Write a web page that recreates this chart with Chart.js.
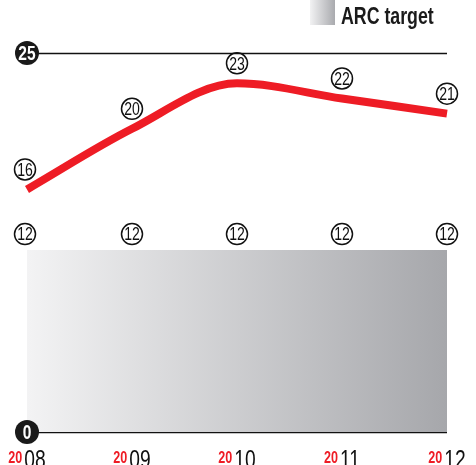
<!DOCTYPE html>
<html>
<head>
<meta charset="utf-8">
<script src="https://cdn.jsdelivr.net/npm/chart.js@4"></script>
<style>
  html, body { margin: 0; padding: 0; background: #fff; }
  #wrap { position: relative; width: 476px; height: 465px; }
</style>
</head>
<body>
<div id="wrap"><canvas id="chart" width="476" height="465"></canvas></div>
<script>
const years = ["2008", "2009", "2010", "2011", "2012"];
const actualValues = [16, 20, 23, 22, 21];
const arcTarget = [12, 12, 12, 12, 12];
const axisMarks = [0, 25];

const FONT = '"Liberation Sans", Arial, sans-serif';
const RED = "#ee1c25";
const SQUEEZE = 0.74; // horizontal squeeze to get a condensed face

// draw text squeezed horizontally, returns drawn width
function condText(ctx, text, x, y, font, align) {
  ctx.save();
  ctx.font = font;
  const w = ctx.measureText(text).width * SQUEEZE;
  let left = x;
  if (align === "center") left = x - w / 2;
  else if (align === "right") left = x - w;
  ctx.translate(left, y);
  ctx.scale(SQUEEZE, 1);
  ctx.textAlign = "left";
  ctx.fillText(text, 0, 0);
  ctx.restore();
  return w;
}

function condWidth(ctx, text, font) {
  ctx.save();
  ctx.font = font;
  const w = ctx.measureText(text).width * SQUEEZE;
  ctx.restore();
  return w;
}

// circled value above each point
function circled(ctx, text, x, y) {
  ctx.save();
  ctx.beginPath();
  ctx.arc(x, y, 10.5, 0, Math.PI * 2);
  ctx.lineWidth = 1.5;
  ctx.strokeStyle = "#111";
  ctx.stroke();
  ctx.fillStyle = "#111";
  ctx.textBaseline = "middle";
  condText(ctx, text, x, y + 1, "19px " + FONT, "center");
  ctx.restore();
}

const decorations = {
  id: "decorations",
  beforeDatasetsDraw(chart) {
    const { ctx, chartArea, scales } = chart;
    ctx.save();
    ctx.strokeStyle = "#111";
    ctx.lineWidth = 1.3;
    axisMarks.forEach(v => {
      const y = Math.round(scales.y.getPixelForValue(v)) + 0.5;
      ctx.beginPath();
      ctx.moveTo(chartArea.left, y);
      ctx.lineTo(chartArea.right, y);
      ctx.stroke();
    });
    ctx.restore();
  },
  afterDatasetsDraw(chart) {
    const { ctx, scales } = chart;
    const x = scales.x, y = scales.y;

    // axis badges
    axisMarks.forEach(v => {
      const py = y.getPixelForValue(v);
      ctx.save();
      ctx.beginPath();
      ctx.arc(27, py, 12, 0, Math.PI * 2);
      ctx.fillStyle = "#1a1a1a";
      ctx.fill();
      ctx.fillStyle = "#fff";
      ctx.textBaseline = "middle";
      condText(ctx, String(v), 27, py + 1, "bold 21px " + FONT, "center");
      ctx.restore();
    });

    years.forEach((yr, i) => {
      const px = x.getPixelForValue(i);
      const dx = i === 0 ? -2 : 0;
      circled(ctx, String(actualValues[i]), px + dx, y.getPixelForValue(actualValues[i]) - 20);
      circled(ctx, String(arcTarget[i]), px + dx, y.getPixelForValue(arcTarget[i]) - 16);

      // year label: small red century, large black year
      const head = yr.slice(0, 2), tail = yr.slice(2);
      const fHead = "bold 17px " + FONT, fTail = "26px " + FONT;
      const wHead = condWidth(ctx, head, fHead);
      const wTail = condWidth(ctx, tail, fTail);
      const start = px - (wHead + wTail + 2) / 2;
      ctx.save();
      ctx.textBaseline = "alphabetic";
      ctx.fillStyle = RED;
      condText(ctx, head, start, 463, fHead, "left");
      ctx.fillStyle = "#111";
      condText(ctx, tail, start + wHead + 2, 468, fTail, "left");
      ctx.restore();
    });

    // legend
    ctx.save();
    const g = ctx.createLinearGradient(310, 0, 335, 0);
    g.addColorStop(0, "#f2f2f3");
    g.addColorStop(1, "#a9aaae");
    ctx.fillStyle = g;
    ctx.fillRect(310, 0, 25, 25);
    ctx.fillStyle = "#1a1a1a";
    ctx.textBaseline = "alphabetic";
    condText(ctx, "ARC target", 341, 24, "bold 24px " + FONT, "left");
    ctx.restore();
  }
};

new Chart(document.getElementById("chart"), {
  type: "line",
  data: {
    labels: years,
    datasets: [
      {
        label: "Actual",
        data: actualValues,
        borderColor: RED,
        borderWidth: 8,
        borderCapStyle: "butt",
        cubicInterpolationMode: "monotone",
        pointRadius: 0,
        fill: false,
        order: 0
      },
      {
        label: "ARC target",
        data: arcTarget,
        borderWidth: 0,
        pointRadius: 0,
        tension: 0,
        fill: "origin",
        backgroundColor: (c) => {
          const area = c.chart.chartArea;
          if (!area) return "#ccc";
          const g = c.chart.ctx.createLinearGradient(area.left, 0, area.right, 0);
          g.addColorStop(0, "#f3f3f4");
          g.addColorStop(1, "#a6a7ab");
          return g;
        },
        order: 1
      }
    ]
  },
  options: {
    responsive: false,
    animation: false,
    layout: { padding: { left: 27, right: 29, top: 53, bottom: 33 } },
    plugins: { legend: { display: false }, tooltip: { enabled: false } },
    scales: {
      x: { display: false },
      y: { display: false, min: 0, max: 25 }
    }
  },
  plugins: [decorations]
});
</script>
</body>
</html>
